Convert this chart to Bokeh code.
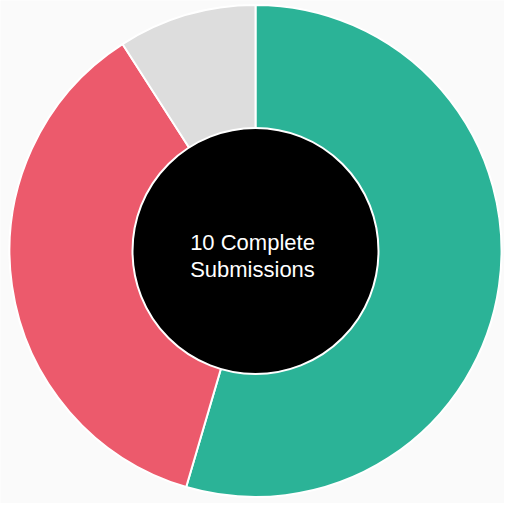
import math
from bokeh.plotting import figure
from bokeh.embed import file_html
from bokeh.resources import INLINE
from bokeh.core.properties import value

# Data
categories = ["Complete (A)", "Complete (B)", "Incomplete"]
counts = [6, 4, 1]
colors = ["#2bb397", "#ec5a6c", "#dddddd"]
center_lines = ["10 Complete", "Submissions"]

W, H = 504, 503
BG = "#fafafa"
p = figure(width=W, height=H, x_range=(0, W), y_range=(0, H),
           output_backend="svg", toolbar_location=None,
           background_fill_color=BG, border_fill_color=BG,
           min_border=0, outline_line_color=None)
p.axis.visible = False
p.grid.visible = False

cx, cy = 255, 252.5
r_out, r_in = 246, 123

total = sum(counts)
cum = 0.0
starts, ends = [], []
for c in counts:
    starts.append(math.pi / 2 - 2 * math.pi * cum / total)
    cum += c
    ends.append(math.pi / 2 - 2 * math.pi * cum / total)

p.wedge(x=[cx] * len(counts), y=[cy] * len(counts), radius=r_out,
        start_angle=starts, end_angle=ends, direction="clock",
        fill_color=colors, line_color="white", line_width=2)

p.scatter(x=[cx], y=[cy], size=2 * r_in, fill_color="black",
          line_color="white", line_width=2)

p.text(x=[cx - 3, cx - 3], y=[cy + 9, cy - 18], text=center_lines,
       text_color="white", text_font=value("Liberation Sans"),
       text_font_size="22px", text_align="center", text_baseline="alphabetic")

html = file_html(p, INLINE)
html = html.replace("<body>", '<body style="background:%s">' % BG, 1)
open("out.html", "w").write(html)
